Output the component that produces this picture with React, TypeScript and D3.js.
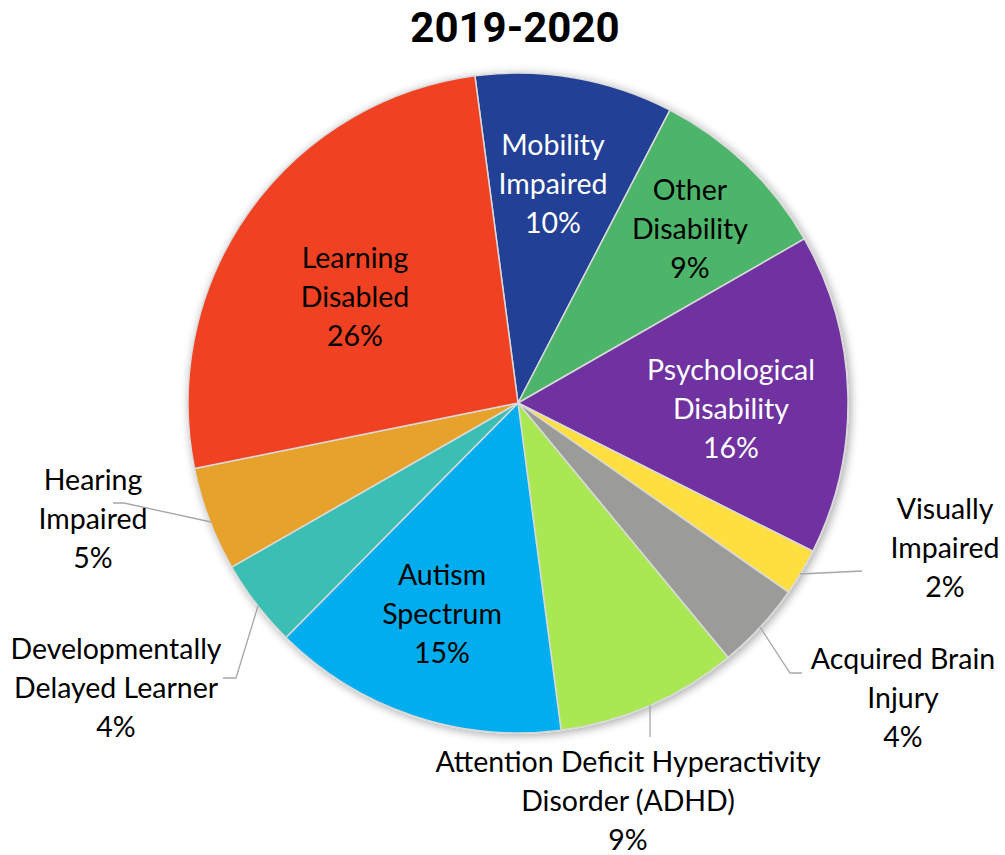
import React from "react";
import * as d3 from "d3";

const categories = [
  "Mobility Impaired",
  "Other Disability",
  "Psychological Disability",
  "Visually Impaired",
  "Acquired Brain Injury",
  "Attention Deficit Hyperactivity Disorder (ADHD)",
  "Autism Spectrum",
  "Developmentally Delayed Learner",
  "Hearing Impaired",
  "Learning Disabled",
];
const values = [9.7, 9.1, 15.7, 2.3, 4.3, 8.9, 14.5, 4.3, 5.1, 26.1];
const percentLabels = ["10%", "9%", "16%", "2%", "4%", "9%", "15%", "4%", "5%", "26%"];
const labelLines = [
  ["Mobility", "Impaired"],
  ["Other", "Disability"],
  ["Psychological", "Disability"],
  ["Visually", "Impaired"],
  ["Acquired Brain", "Injury"],
  ["Attention Deficit Hyperactivity", "Disorder (ADHD)"],
  ["Autism", "Spectrum"],
  ["Developmentally", "Delayed Learner"],
  ["Hearing", "Impaired"],
  ["Learning", "Disabled"],
];
const colors = [
  "#203f96", "#4eb56a", "#7030a0", "#ffdf3f", "#9b9b97",
  "#a9e853", "#00aeef", "#3bbfb5", "#e6a22b", "#f04224",
];
const textColors = ["#fff", "#000", "#fff", "#000", "#000", "#000", "#000", "#000", "#000", "#000"];

// layout: label centers (x, middle-line y) and leader lines
const labelPos: [number, number][] = [
  [553, 184], [690, 229], [731, 409], [945, 548], [903, 698],
  [628, 801], [442, 614], [116, 688], [93, 519], [355, 297],
];
const leaders: ([number, number][] | null)[] = [
  null, null, null,
  [[862, 571], [800, 574]],
  [[802, 673], [790, 673], [760, 627]],
  [[650, 737], [650, 705]],
  null,
  [[223, 678], [236, 678], [258, 606]],
  [[113, 503], [124, 503], [211, 522]],
  null,
];

const CX = 518, CY = 403, R = 330;
const START = (-7.5 * Math.PI) / 180;

export default function App() {
  const pie = d3.pie<number>().sort(null).value((d) => d).startAngle(START).endAngle(START + 2 * Math.PI);
  const arcs = pie(values);
  const arc = d3.arc<d3.PieArcDatum<number>>().innerRadius(0).outerRadius(R);
  const line = d3.line();
  const font = "Lato, 'Open Sans', sans-serif";
  return (
    <svg width={1005} height={855} style={{ position: "absolute", left: 0, top: 0, background: "#fff" }}>
      <defs>
        <filter id="sh" x="-20%" y="-20%" width="140%" height="140%">
          <feGaussianBlur in="SourceAlpha" stdDeviation="5" />
          <feOffset dx="2" dy="2" result="b" />
          <feComponentTransfer>
            <feFuncA type="linear" slope="0.35" />
          </feComponentTransfer>
          <feMerge>
            <feMergeNode />
            <feMergeNode in="SourceGraphic" />
          </feMerge>
        </filter>
      </defs>
      <text x={515} y={42} textAnchor="middle" fontFamily="Roboto, sans-serif" fontWeight={700} fontSize={42} fill="#000">
        2019-2020
      </text>
      <g transform={`translate(${CX},${CY})`} filter="url(#sh)">
        {arcs.map((a, i) => (
          <path key={i} d={arc(a) || ""} fill={colors[i]} stroke="#d9d9d9" strokeWidth={1.5} strokeLinejoin="round" />
        ))}
      </g>
      {leaders.map((l, i) =>
        l ? <path key={i} d={line(l) || ""} fill="none" stroke="#a6a6a6" strokeWidth={1.3} /> : null
      )}
      {labelPos.map(([x, y], i) => (
        <text key={i} textAnchor="middle" fontFamily={font} fontSize={28.5} fill={textColors[i]}>
          {[...labelLines[i], percentLabels[i]].map((t, j) => (
            <tspan key={j} x={x} y={y + (j - 1) * 38.7 + 10}>
              {t}
            </tspan>
          ))}
        </text>
      ))}
    </svg>
  );
}
